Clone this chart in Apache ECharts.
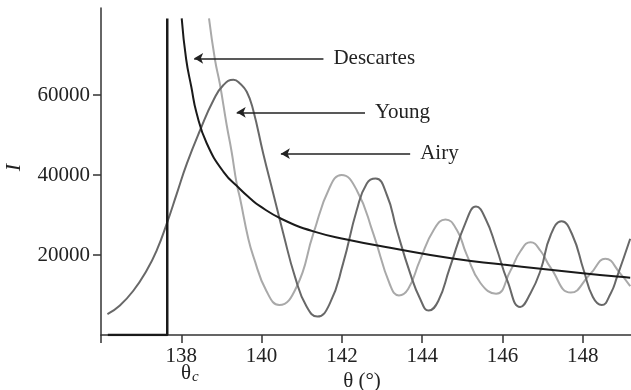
<!DOCTYPE html>
<html><head><meta charset="utf-8">
<script src="https://cdn.jsdelivr.net/npm/echarts@6/dist/echarts.min.js"></script>
<style>html,body{margin:0;padding:0;background:#fff}#c{width:631px;height:390px}</style>
</head><body><div id="c"></div>
<script>
const xTickLabels = [138, 140, 142, 144, 146, 148];
const xTicks = [136, 138, 140, 142, 144, 146, 148];
const yTickLabels = [20000, 40000, 60000];

const descartesShadow = [[136.17, 0], [137.65, 0], [137.65, 79150]];
const descartes = [
  [138.01, 79150], [138.12, 69000], [138.25, 62000], [138.38, 55500], [138.63, 48000],
  [139.05, 40800], [139.46, 36500], [139.71, 34200], [139.96, 32200], [140.50, 29000],
  [141.29, 25900], [142.12, 23900], [143.20, 21800], [144.76, 19100], [146.01, 17600],
  [146.95, 16550], [148.00, 15450], [148.85, 14600], [149.18, 14300]
];
const young = [
  [138.69, 79150], [138.84, 68750], [138.96, 62800], [139.13, 52500], [139.25, 46000],
  [139.38, 37800], [139.46, 34300], [139.67, 24000], [139.79, 19800], [140.12, 11000],
  [140.44, 7500], [140.87, 12000], [141.29, 25400], [141.70, 37000], [141.99, 40000],
  [142.37, 36200], [142.78, 25400], [143.20, 12500], [143.42, 9900], [143.65, 11500],
  [143.94, 18600], [144.30, 26500], [144.58, 28900], [144.86, 26300], [145.10, 20300],
  [145.45, 13000], [145.84, 10300], [146.20, 16100], [146.45, 21000], [146.70, 23200],
  [146.95, 21000], [147.19, 16950], [147.70, 10600], [148.19, 15300], [148.56, 19050],
  [148.94, 15300], [149.18, 12200]
];
const airy = [
  [136.16, 5200], [136.47, 7400], [136.80, 11000], [137.14, 16200], [137.39, 21200],
  [137.64, 27900], [137.89, 35400], [138.14, 42900], [138.47, 51250], [138.80, 58700],
  [139.05, 62500], [139.30, 63800], [139.46, 62900], [139.63, 60800], [139.79, 56250],
  [140.04, 45400], [140.29, 35400], [140.54, 25400], [140.83, 14600], [141.12, 7100],
  [141.39, 4600], [141.70, 7900], [142.03, 17900], [142.37, 31250], [142.62, 37900],
  [142.84, 39100], [143.12, 35000], [143.36, 26500], [143.70, 15400], [143.95, 9000],
  [144.16, 6100], [144.40, 8500], [144.68, 16600], [145.10, 28600], [145.34, 32100],
  [145.58, 29000], [145.84, 22000], [146.12, 13600], [146.44, 7000], [146.70, 10500],
  [146.95, 16250], [147.20, 25000], [147.47, 28450], [147.74, 25000], [148.02, 16250],
  [148.25, 9500], [148.47, 7500], [148.70, 10500], [148.85, 14450], [149.18, 24050]
];
const annotations = [
  { name: 'Descartes', tip: [138.32, 69175], tail: [141.54, 69175] },
  { name: 'Young', tip: [139.38, 55675], tail: [142.575, 55675] },
  { name: 'Airy', tip: [140.48, 45325], tail: [143.70, 45325] }
];

const FONT = "'Liberation Serif', 'Times New Roman', serif";
const chart = echarts.init(document.getElementById('c'), null, { renderer: 'canvas' });

chart.setOption({
  animation: false,
  backgroundColor: '#fff',
  grid: { left: 101, right: 0, top: 8, bottom: 55, containLabel: false, outerBoundsMode: 'none' },
  xAxis: {
    type: 'value', min: 136, max: 149.2, interval: 2,
    name: 'θ (°)', nameLocation: 'middle', nameGap: 36, nameMoveOverlap: false,
    nameTextStyle: { fontFamily: FONT, fontSize: 21, color: '#222', padding: [0, 8, 0, 0] },
    axisLine: { show: true, onZero: false, lineStyle: { color: '#333', width: 1.5 } },
    axisTick: { show: true, length: 8, customValues: xTicks, lineStyle: { color: '#333', width: 1.5 } },
    axisLabel: { customValues: xTickLabels, margin: 11, fontFamily: FONT, fontSize: 21, color: '#222', formatter: v => String(v) },
    splitLine: { show: false }
  },
  yAxis: {
    type: 'value', min: 0, max: 81750,
    name: 'I', nameLocation: 'middle', nameGap: 76, nameRotate: 90, nameMoveOverlap: false,
    nameTextStyle: { fontFamily: FONT, fontSize: 22, fontStyle: 'italic', color: '#222', padding: [0, 0, 0, 8] },
    axisLine: { show: true, lineStyle: { color: '#333', width: 1.5 } },
    axisTick: { show: true, length: 8, customValues: yTickLabels, lineStyle: { color: '#333', width: 1.5 } },
    axisLabel: { customValues: yTickLabels, margin: 11, fontFamily: FONT, fontSize: 21, color: '#222', formatter: v => String(v) },
    splitLine: { show: false }
  },
  graphic: [{
    type: 'text', left: 181, top: 360, silent: true,
    style: {
      text: '{a|θ}{b|c}',
      rich: {
        a: { fontFamily: FONT, fontSize: 21, fill: '#222', lineHeight: 24 },
        b: { fontFamily: FONT, fontSize: 15, fontStyle: 'italic', fill: '#222', lineHeight: 24, verticalAlign: 'bottom', padding: [10, 0, 0, 1] }
      }
    }
  }],
  series: [
    {
      name: 'Young', type: 'line', data: young, smooth: 0.5, showSymbol: false, silent: true,
      lineStyle: { color: '#a9a9a9', width: 2 }, z: 2
    },
    {
      name: 'Airy', type: 'line', data: airy, smooth: 0.5, showSymbol: false, silent: true,
      lineStyle: { color: '#686868', width: 2 }, z: 3
    },
    {
      name: 'Descartes shadow', type: 'line', data: descartesShadow, showSymbol: false, silent: true,
      lineStyle: { color: '#1a1a1a', width: 2.5 }, z: 4
    },
    {
      name: 'Descartes', type: 'line', data: descartes, smooth: 0.5, showSymbol: false, silent: true,
      lineStyle: { color: '#1a1a1a', width: 2 }, z: 4,
      markLine: {
        silent: true, symbol: ['arrow', 'none'], symbolSize: [8, 9],
        lineStyle: { type: 'solid', color: '#222', width: 1.5 },
        label: { show: true, position: 'end', distance: 10, fontFamily: FONT, fontSize: 21, color: '#222', formatter: p => p.name },
        emphasis: { disabled: true },
        data: annotations.map(a => [{ name: a.name, coord: a.tip }, { coord: a.tail }])
      }
    }
  ]
});
</script></body></html>
